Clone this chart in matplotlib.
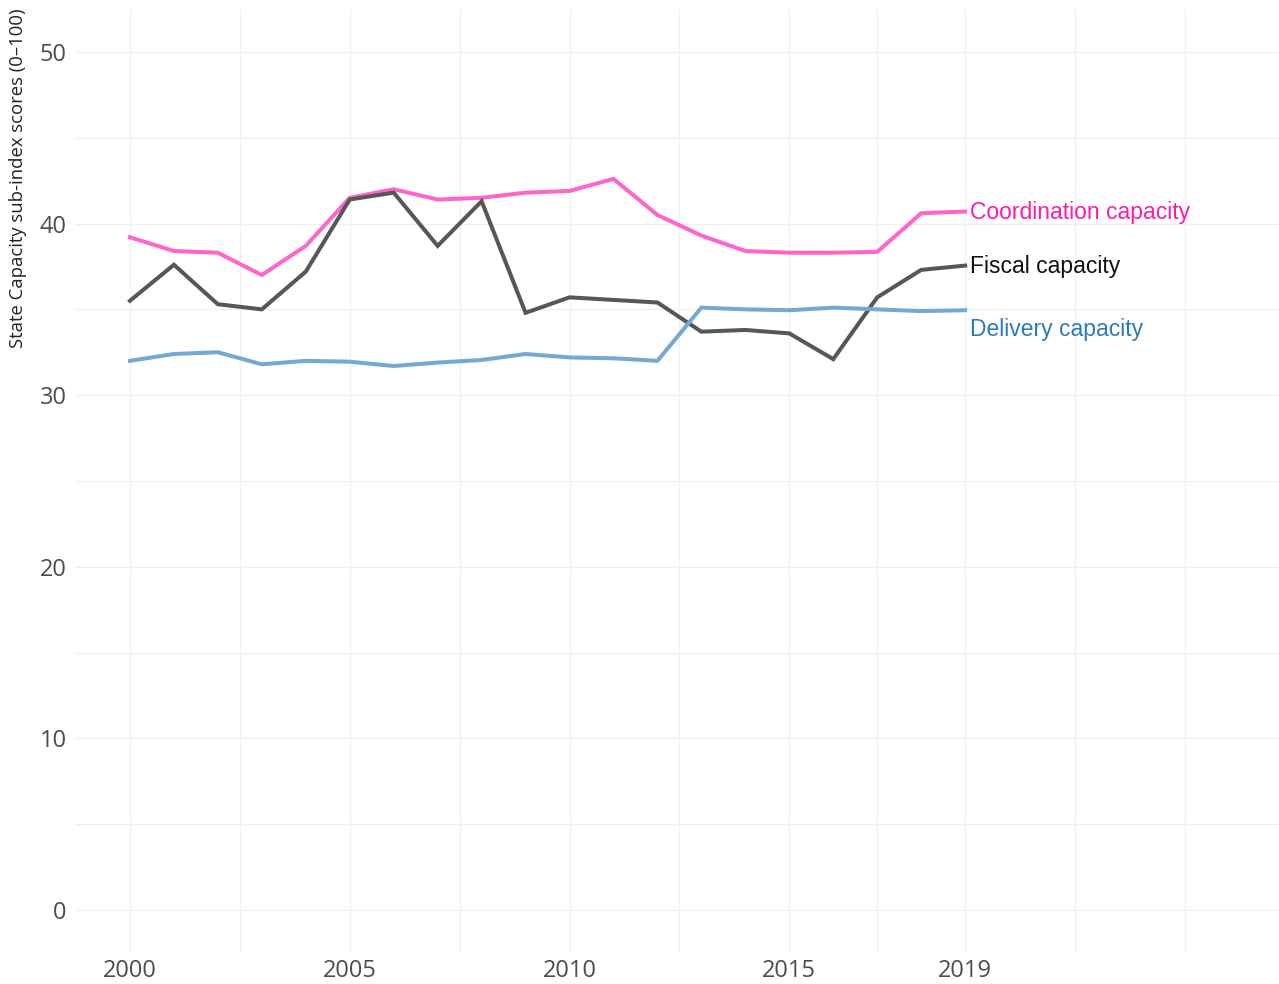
import matplotlib
matplotlib.use("Agg")
import matplotlib.pyplot as plt

# values
years = list(range(2000, 2020))
coordination = [39.2, 38.4, 38.3, 37.0, 38.7, 41.5, 42.0, 41.4, 41.5, 41.8,
                41.9, 42.6, 40.5, 39.3, 38.4, 38.3, 38.3, 38.35, 40.6, 40.7]
fiscal = [35.5, 37.6, 35.3, 35.0, 37.2, 41.4, 41.8, 38.7, 41.3, 34.8,
          35.7, 35.55, 35.4, 33.7, 33.8, 33.6, 32.1, 35.7, 37.3, 37.55]
delivery = [32.0, 32.4, 32.5, 31.8, 32.0, 31.95, 31.7, 31.9, 32.05, 32.4,
            32.2, 32.15, 32.0, 35.1, 35.0, 34.95, 35.1, 35.0, 34.9, 34.95]

series_names = ["Coordination capacity", "Fiscal capacity", "Delivery capacity"]
label_y = [40.65, 37.5, 33.85]
x_breaks = [2000, 2005, 2010, 2015, 2019]
x_minor = [2002.5, 2007.5, 2012.5, 2017, 2021.5, 2024]
y_breaks = [0, 10, 20, 30, 40, 50]
y_minor = [5, 15, 25, 35, 45]

line_colors = ["#ff66cc", "#575757", "#75a9d1"]
text_colors = ["#ff1aa8", "#111111", "#2b7bba"]

fig = plt.figure(figsize=(12.79, 9.84), dpi=100)
ax = fig.add_axes([75 / 1279, 31 / 984, 1204 / 1279, 944 / 984])

for v in x_breaks + x_minor:
    ax.axvline(v, color="#f0f0f0", lw=0.9, zorder=0)
for v in y_breaks + y_minor:
    ax.axhline(v, color="#f0f0f0", lw=0.9, zorder=0)

for vals, c in zip([coordination, fiscal, delivery], line_colors):
    ax.plot(years, vals, color=c, lw=2.9, solid_joinstyle="miter", zorder=3)

for name, yv, c in zip(series_names, label_y, text_colors):
    ax.text(years[-1] + 0.12, yv, name, color=c, fontsize=16.5,
            family="Liberation Sans", va="center", ha="left", zorder=4)

ax.set_xlim(1998.75, 2026.14)
ax.set_ylim(-2.5, 52.5)
ax.set_xticks(x_breaks)
ax.set_xticklabels([str(v) for v in x_breaks])
ax.set_yticks(y_breaks)
for lab in ax.get_xticklabels() + ax.get_yticklabels():
    lab.set_family("Open Sans")
    lab.set_fontsize(17)
    lab.set_color("#4d4d4d")
ax.tick_params(length=0, pad=6)
ax.tick_params(axis="x", pad=4)
for s in ax.spines.values():
    s.set_visible(False)

fig.text(0.014, 1 - 178 / 984, "State Capacity sub-index scores (0\u2013100)",
         rotation=90, va="center", ha="center", fontsize=13.3, family="Open Sans",
         color="#222222")

fig.savefig("out.png", dpi=100)
